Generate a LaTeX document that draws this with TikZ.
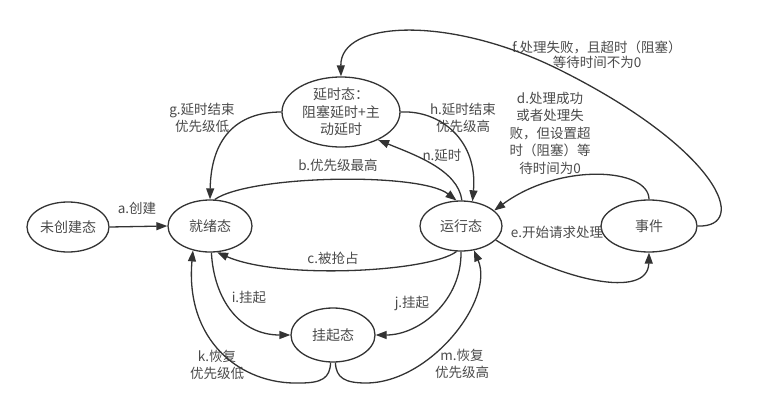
\documentclass[tikz,border=0pt]{standalone}
\usepackage{fontspec}
\newfontfamily\cjk{Noto Sans CJK SC}
\usetikzlibrary{arrows.meta,shapes.geometric}
\definecolor{lnc}{HTML}{333333}
\definecolor{txc}{HTML}{4A4A4A}
\begin{document}
\begin{tikzpicture}[x=1pt,y=-1pt,
  state/.style={ellipse,draw=lnc,line width=1.3pt,inner sep=0pt,font=\cjk\fontsize{14}{17.5}\selectfont,text=txc,align=center},
  lbl/.style={font=\cjk\fontsize{13.5}{17.5}\selectfont,text=txc,align=center,inner sep=0pt},
  arr/.style={draw=lnc,line width=1.3pt,-{Triangle[length=11pt,width=8pt]}}]
\useasboundingbox (0,0) rectangle (758,415);
% states
\node[state,minimum width=82pt,minimum height=50pt] (uc) at (68,227) {未创建态};
\node[state,minimum width=84pt,minimum height=52pt] (ready) at (210,226) {就绪态};
\node[state,minimum width=118pt,minimum height=70pt] (delay) at (341,112) {延时态：\\阻塞延时+主\\动延时};
\node[state,minimum width=82pt,minimum height=50pt] (run) at (461,226) {运行态};
\node[state,minimum width=96pt,minimum height=52pt] (event) at (649,226) {事件};
\node[state,minimum width=84pt,minimum height=54pt] (susp) at (333,335) {挂起态};
% labels
\node[lbl] (la) at (137,208) {a.创建};
\node[lbl] (lg) at (202,118) {g.延时结束\\优先级低};
\node[lbl] (lb) at (338,165) {b.优先级最高};
\node[lbl] (lh) at (463,118) {h.延时结束\\优先级高};
\node[lbl] (lnn) at (442,155) {n.延时};
\node[lbl] (ld) at (550,133) {d.处理成功\\或者处理失\\败，但设置超\\时（阻塞）等\\待时间为0};
\node[lbl] (lf) at (597,55) {f.处理失败，且超时（阻塞）\\[-2pt]等待时间不为0};
\node[lbl] (lc) at (333,258) {c.被抢占};
\node[lbl] (li) at (249,297) {i.挂起};
\node[lbl] (lj) at (412,303) {j.挂起};
\node[lbl] (lk) at (217,365) {k.恢复\\优先级低};
\node[lbl] (lm) at (462,364) {m.恢复\\优先级高};
\node[lbl] (le) at (557,232) {e.开始请求处理};
% connectors
\draw[arr] (uc.east) -- (ready.west);
\draw[arr] (delay.west) .. controls (235,112) and (211,140) .. (ready.north);
\draw[arr] (ready.80) .. controls (250,175) and (420,172) .. (run.100);
\draw[arr] (run.88) .. controls (458,170) and (415,155) .. (delay.-37);
\draw[arr] (delay.east) .. controls (440,110) and (478,140) .. (run.65);
\draw[arr] (event.north) .. controls (649,168) and (560,162) .. (run.25);
\draw[arr] (run.-22) .. controls (560,280) and (648,300) .. (event.south);
\draw[arr] (event.east) .. controls (750,228) and (720,150) .. (560,70) .. controls (450,15) and (340,20) .. (delay.north);
\draw[arr] (run.-100) .. controls (430,272) and (280,280) .. (ready.-75);
\draw[arr] (ready.-87) .. controls (214,300) and (240,335) .. (susp.west);
\draw[arr] (run.-90) .. controls (462,300) and (420,335) .. (susp.east);
\draw[arr] (susp.-95) .. controls (330,378) and (322,383) .. (300,383) .. controls (240,385) and (185,340) .. (ready.-125);
\draw[arr] (susp.-85) .. controls (336,378) and (345,383) .. (366,383) .. controls (430,383) and (495,300) .. (run.-62);
\end{tikzpicture}
\end{document}
